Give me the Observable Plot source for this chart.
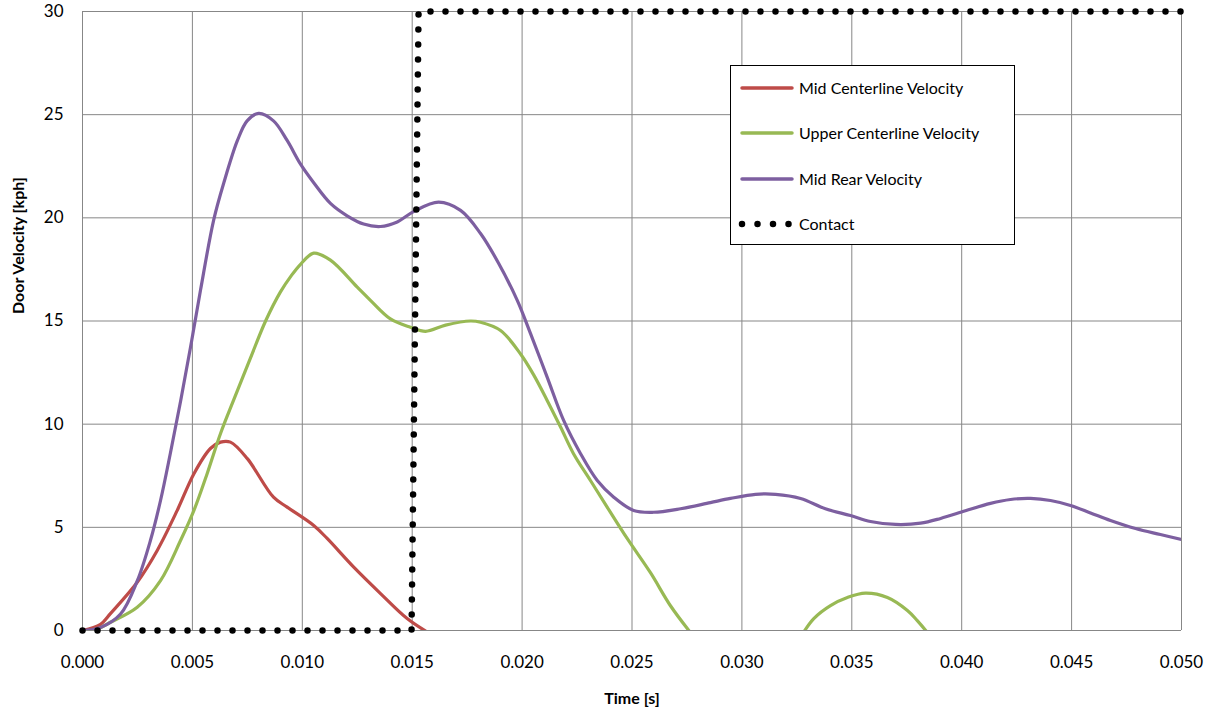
<!DOCTYPE html>
<html><head><meta charset="utf-8">
<script src="https://cdn.jsdelivr.net/npm/d3@7"></script>
<script src="https://cdn.jsdelivr.net/npm/@observablehq/plot@0.6"></script>
<style>
body{margin:0;background:#fff;font-family:Lato,sans-serif}
#chart{position:relative;width:1214px;height:719px}
#legend{position:absolute;left:730px;top:65px}
</style>
</head><body><div id="chart"></div>
<script>
// ---- data ----
const seriesNames = ["Mid Centerline Velocity", "Upper Centerline Velocity", "Mid Rear Velocity", "Contact"];
const seriesColors = ["#BE4B48", "#98B954", "#7D5FA0", "#000000"];
const xTicks = [0, 0.005, 0.010, 0.015, 0.020, 0.025, 0.030, 0.035, 0.040, 0.045, 0.050];
const yTicks = [0, 5, 10, 15, 20, 25, 30];

const midCenterT = [0, 0.00082, 0.00127, 0.00249, 0.0034, 0.00431, 0.00507, 0.00582, 0.00628, 0.00673, 0.0075, 0.00869, 0.00931, 0.01052, 0.01113, 0.01234, 0.01356, 0.01477, 0.0158];
const midCenterV = [0, 0.3, 0.82, 2.34, 3.88, 5.82, 7.6, 8.82, 9.13, 9.13, 8.33, 6.46, 5.98, 5.09, 4.46, 3.07, 1.79, 0.58, -0.15];

const upperT1 = [0, 0.0005, 0.00127, 0.00249, 0.00355, 0.00446, 0.00507, 0.00567, 0.00628, 0.00687, 0.00764, 0.00833, 0.009, 0.0095, 0.00992, 0.01052, 0.01128, 0.0125, 0.0131, 0.01401, 0.01492, 0.01561, 0.01652, 0.01765, 0.01811, 0.01902, 0.01993, 0.02052, 0.02114, 0.02175, 0.02234, 0.02311, 0.02387, 0.02478, 0.02584, 0.02675, 0.02766];
const upperV1 = [0, 0, 0.4, 1.13, 2.42, 4.36, 5.82, 7.6, 9.55, 11.15, 13.2, 15.0, 16.4, 17.2, 17.75, 18.29, 17.95, 16.64, 16.0, 15.1, 14.7, 14.5, 14.8, 15.0, 14.94, 14.54, 13.4, 12.4, 11.15, 9.86, 8.57, 7.27, 5.98, 4.46, 2.8, 1.2, -0.1];
const upperT2 = [0.0328, 0.03327, 0.03403, 0.0348, 0.03562, 0.03662, 0.03753, 0.03798, 0.03844];
const upperV2 = [-0.1, 0.58, 1.21, 1.6, 1.81, 1.6, 0.97, 0.48, -0.1];

const midRearT = [0, 0.00082, 0.00173, 0.00249, 0.00309, 0.00355, 0.004, 0.00446, 0.00491, 0.00537, 0.00597, 0.00643, 0.00705, 0.00749, 0.00801, 0.00869, 0.00931, 0.00992, 0.01052, 0.01128, 0.01204, 0.01279, 0.01356, 0.01432, 0.01506, 0.0162, 0.0172, 0.01811, 0.01893, 0.01978, 0.02038, 0.02114, 0.02189, 0.02266, 0.02342, 0.02417, 0.02507, 0.02598, 0.02721, 0.02857, 0.02948, 0.03062, 0.03153, 0.03267, 0.0338, 0.03494, 0.03585, 0.03699, 0.03813, 0.03904, 0.04017, 0.04131, 0.04222, 0.04313, 0.04404, 0.04495, 0.04586, 0.04677, 0.04791, 0.04904, 0.05];
const midRearV = [0, 0.15, 0.8, 2.4, 4.36, 6.3, 8.6, 11.1, 13.7, 16.5, 19.9, 21.7, 23.75, 24.7, 25.06, 24.7, 23.75, 22.6, 21.7, 20.7, 20.1, 19.7, 19.58, 19.8, 20.3, 20.76, 20.36, 19.24, 17.8, 16.0, 14.4, 12.28, 10.18, 8.57, 7.27, 6.46, 5.82, 5.73, 5.9, 6.2, 6.4, 6.6, 6.6, 6.4, 5.9, 5.57, 5.28, 5.14, 5.2, 5.43, 5.8, 6.16, 6.35, 6.4, 6.3, 6.06, 5.7, 5.33, 4.94, 4.65, 4.41];

const contactT = [0, 0.01497, 0.01529, 0.05];
const contactV = [0, 0, 30, 30];

// ---- build tables ----
const rows = (series, key, ts, vs) => ts.map((t, i) => ({series, key, t, v: vs[i]}));
const lineData = [
  ...rows(seriesNames[0], "a", midCenterT, midCenterV),
  ...rows(seriesNames[1], "b1", upperT1, upperV1),
  ...rows(seriesNames[1], "b2", upperT2, upperV2),
  ...rows(seriesNames[2], "c", midRearT, midRearV)
];
const contactData = rows(seriesNames[3], "d", contactT, contactV);
const gridColor = "#878787";

const chart = Plot.plot({
  width: 1214, height: 719,
  marginLeft: 82, marginRight: 33, marginTop: 11, marginBottom: 89,
  style: {fontFamily: "Lato, sans-serif", fontSize: "17px", color: "#000", background: "#fff", overflow: "visible"},
  x: {domain: [0, 0.05]},
  y: {domain: [0, 30]},
  color: {domain: seriesNames, range: seriesColors},
  marks: [
    Plot.gridX(xTicks, {stroke: gridColor, strokeOpacity: 1, strokeWidth: 1}),
    Plot.gridY(yTicks, {stroke: gridColor, strokeOpacity: 1, strokeWidth: 1}),
    Plot.axisX(xTicks, {tickSize: 0, tickPadding: 25, label: null, tickFormat: d3.format(".3f"), fontSize: 17}),
    Plot.axisY(yTicks, {tickSize: 0, tickPadding: 19, label: null, fontSize: 17}),
    Plot.line(lineData, {x: "t", y: "v", z: "key", stroke: "series", strokeWidth: 3.2, curve: "catmull-rom", clip: true}),
    Plot.line(contactData, {x: "t", y: "v", stroke: "series", strokeWidth: 6.5, strokeDasharray: "0 15", strokeLinecap: "round"}),
    Plot.text(["Time [s]"], {text: d => d, frameAnchor: "bottom", dy: 73, fontWeight: "bold", fontSize: 16}),
    Plot.text(["Door Velocity [kph]"], {text: d => d, frameAnchor: "left", dx: -64, dy: -7, rotate: -90, fontWeight: "bold", fontSize: 16})
  ]
});
document.getElementById("chart").appendChild(chart);

// ---- legend ----
const lw = 284, lh = 179;
const leg = d3.select("#chart").append("svg").attr("id", "legend").attr("width", lw + 1).attr("height", lh + 1);
leg.append("rect").attr("x", 0.5).attr("y", 0.5).attr("width", lw).attr("height", lh).attr("fill", "#fff").attr("stroke", "#000");
const rowY = [23, 68, 114, 159];
seriesNames.forEach((name, i) => {
  const g = leg.append("g").attr("transform", `translate(0,${rowY[i]})`);
  if (i < 3) {
    g.append("line").attr("x1", 12).attr("x2", 62).attr("y1", 0).attr("y2", 0)
      .attr("stroke", seriesColors[i]).attr("stroke-width", 3.5).attr("stroke-linecap", "round");
  } else {
    g.append("line").attr("x1", 12).attr("x2", 60).attr("y1", 0).attr("y2", 0)
      .attr("stroke", "#000").attr("stroke-width", 6.5).attr("stroke-dasharray", "0 15.5").attr("stroke-linecap", "round");
  }
  g.append("text").attr("x", 69).attr("y", 0).attr("dy", "0.35em")
    .attr("font-family", "Lato, sans-serif").attr("font-size", 16).attr("fill", "#000").text(name);
});
</script>
</body></html>
